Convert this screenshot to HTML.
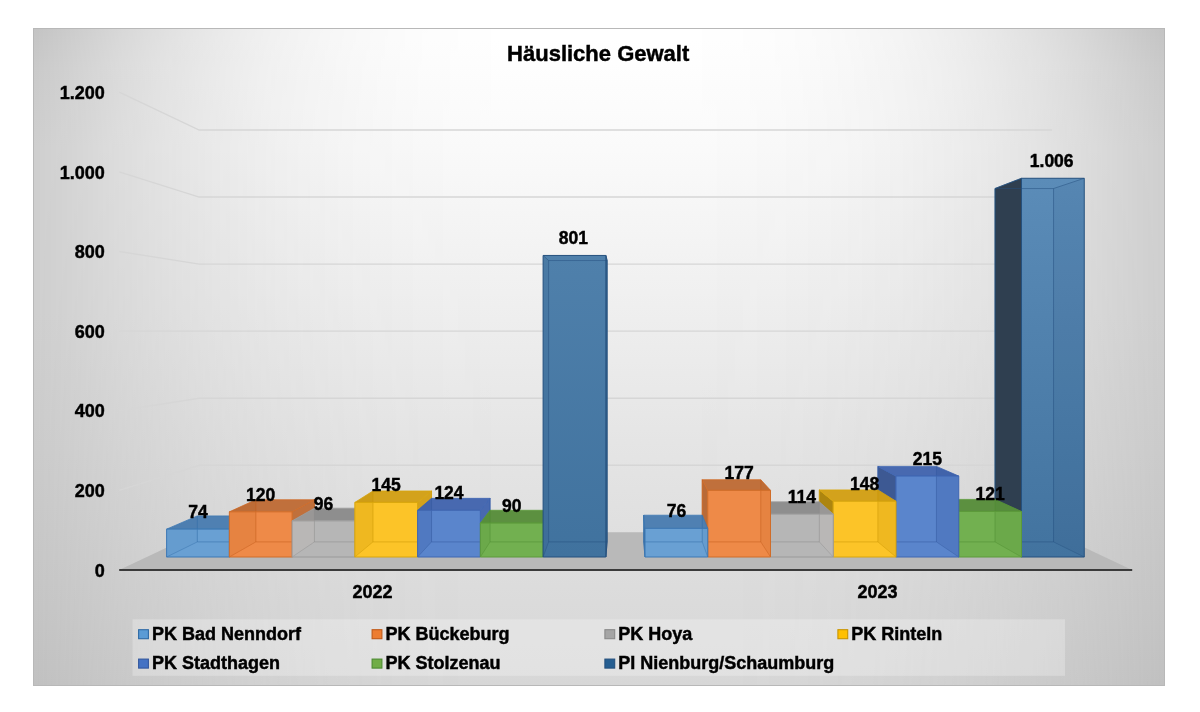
<!DOCTYPE html>
<html><head><meta charset="utf-8"><title>Häusliche Gewalt</title>
<style>
html,body{margin:0;padding:0;background:#fff;}
body{width:1200px;height:712px;position:relative;overflow:hidden;}
#chart{position:absolute;left:33px;top:28px;width:1132px;height:658px;box-sizing:border-box;
border:1px solid #b9b9b9;
border-color:#b8b8b8;background:linear-gradient(to bottom, #c4c4c4 0px, #c6c6c6 11px, #cacaca 39px, #cfcfcf 119px, #cfcfcf 283px, #cbcbcb 423px, #c5c5c5 579px, #c1c1c1 656px);}
#chart::before{content:"";position:absolute;left:0;top:0;right:0;bottom:0;background:linear-gradient(to bottom, #ffffff 0px, #ffffff 11px, #fafafa 121px, #f0f0f0 263px, #e5e5e5 413px, #dbdbdb 573px, #d7d7d7 656px);
-webkit-mask-image:linear-gradient(to right, rgba(0,0,0,0.000) 0px, rgba(0,0,0,0.108) 30px, rgba(0,0,0,0.232) 60px, rgba(0,0,0,0.345) 90px, rgba(0,0,0,0.447) 120px, rgba(0,0,0,0.538) 150px, rgba(0,0,0,0.620) 180px, rgba(0,0,0,0.692) 210px, rgba(0,0,0,0.755) 240px, rgba(0,0,0,0.809) 270px, rgba(0,0,0,0.856) 300px, rgba(0,0,0,0.894) 330px, rgba(0,0,0,0.926) 360px, rgba(0,0,0,0.951) 390px, rgba(0,0,0,0.970) 420px, rgba(0,0,0,0.983) 450px, rgba(0,0,0,0.992) 480px, rgba(0,0,0,0.997) 510px, rgba(0,0,0,1.000) 540px, rgba(0,0,0,1.000) 570px, rgba(0,0,0,0.999) 600px, rgba(0,0,0,0.996) 630px, rgba(0,0,0,0.990) 660px, rgba(0,0,0,0.980) 690px, rgba(0,0,0,0.965) 720px, rgba(0,0,0,0.945) 750px, rgba(0,0,0,0.918) 780px, rgba(0,0,0,0.885) 810px, rgba(0,0,0,0.844) 840px, rgba(0,0,0,0.796) 870px, rgba(0,0,0,0.739) 900px, rgba(0,0,0,0.674) 930px, rgba(0,0,0,0.599) 960px, rgba(0,0,0,0.515) 990px, rgba(0,0,0,0.420) 1020px, rgba(0,0,0,0.316) 1050px, rgba(0,0,0,0.200) 1080px, rgba(0,0,0,0.073) 1110px, rgba(0,0,0,0.000) 1130px);mask-image:linear-gradient(to right, rgba(0,0,0,0.000) 0px, rgba(0,0,0,0.108) 30px, rgba(0,0,0,0.232) 60px, rgba(0,0,0,0.345) 90px, rgba(0,0,0,0.447) 120px, rgba(0,0,0,0.538) 150px, rgba(0,0,0,0.620) 180px, rgba(0,0,0,0.692) 210px, rgba(0,0,0,0.755) 240px, rgba(0,0,0,0.809) 270px, rgba(0,0,0,0.856) 300px, rgba(0,0,0,0.894) 330px, rgba(0,0,0,0.926) 360px, rgba(0,0,0,0.951) 390px, rgba(0,0,0,0.970) 420px, rgba(0,0,0,0.983) 450px, rgba(0,0,0,0.992) 480px, rgba(0,0,0,0.997) 510px, rgba(0,0,0,1.000) 540px, rgba(0,0,0,1.000) 570px, rgba(0,0,0,0.999) 600px, rgba(0,0,0,0.996) 630px, rgba(0,0,0,0.990) 660px, rgba(0,0,0,0.980) 690px, rgba(0,0,0,0.965) 720px, rgba(0,0,0,0.945) 750px, rgba(0,0,0,0.918) 780px, rgba(0,0,0,0.885) 810px, rgba(0,0,0,0.844) 840px, rgba(0,0,0,0.796) 870px, rgba(0,0,0,0.739) 900px, rgba(0,0,0,0.674) 930px, rgba(0,0,0,0.599) 960px, rgba(0,0,0,0.515) 990px, rgba(0,0,0,0.420) 1020px, rgba(0,0,0,0.316) 1050px, rgba(0,0,0,0.200) 1080px, rgba(0,0,0,0.073) 1110px, rgba(0,0,0,0.000) 1130px);}
svg{position:absolute;left:0;top:0;}
text{font-family:"Liberation Sans",Arial,sans-serif;font-weight:bold;fill:#000;stroke:#000;stroke-width:0.45px;}
.dl{font-size:17.5px;text-anchor:middle;}
.yl{font-size:18px;text-anchor:end;}
.cl{font-size:18px;text-anchor:middle;}
.lg{font-size:18px;}
.ti{font-size:22px;text-anchor:middle;}
</style></head>
<body>
<div id="chart"></div>
<svg width="1200" height="712" viewBox="0 0 1200 712">
<defs><linearGradient id="g0" x1="0" y1="0" x2="0" y2="1"><stop offset="0" stop-color="#69a0d3"/><stop offset="1" stop-color="#69a0d3"/></linearGradient><linearGradient id="g1" x1="0" y1="0" x2="0" y2="1"><stop offset="0" stop-color="#5b8cb8"/><stop offset="1" stop-color="#42739f"/></linearGradient><linearGradient id="g2" x1="0" y1="0" x2="0" y2="1"><stop offset="0" stop-color="#ee8a48"/><stop offset="1" stop-color="#ee8a48"/></linearGradient><linearGradient id="g3" x1="0" y1="0" x2="0" y2="1"><stop offset="0" stop-color="#72b050"/><stop offset="1" stop-color="#72b050"/></linearGradient><linearGradient id="g4" x1="0" y1="0" x2="0" y2="1"><stop offset="0" stop-color="#b6b6b6"/><stop offset="1" stop-color="#b6b6b6"/></linearGradient><linearGradient id="g5" x1="0" y1="0" x2="0" y2="1"><stop offset="0" stop-color="#5a85cc"/><stop offset="1" stop-color="#5a85cc"/></linearGradient><linearGradient id="g6" x1="0" y1="0" x2="0" y2="1"><stop offset="0" stop-color="#fcc428"/><stop offset="1" stop-color="#fcc428"/></linearGradient><linearGradient id="g7" x1="0" y1="0" x2="0" y2="1"><stop offset="0" stop-color="#fcc428"/><stop offset="1" stop-color="#fcc428"/></linearGradient><linearGradient id="g8" x1="0" y1="0" x2="0" y2="1"><stop offset="0" stop-color="#5a85cc"/><stop offset="1" stop-color="#5a85cc"/></linearGradient><linearGradient id="g9" x1="0" y1="0" x2="0" y2="1"><stop offset="0" stop-color="#b6b6b6"/><stop offset="1" stop-color="#b6b6b6"/></linearGradient><linearGradient id="g10" x1="0" y1="0" x2="0" y2="1"><stop offset="0" stop-color="#72b050"/><stop offset="1" stop-color="#72b050"/></linearGradient><linearGradient id="g11" x1="0" y1="0" x2="0" y2="1"><stop offset="0" stop-color="#ee8a48"/><stop offset="1" stop-color="#ee8a48"/></linearGradient><linearGradient id="g12" x1="0" y1="0" x2="0" y2="1"><stop offset="0" stop-color="#4f80ab"/><stop offset="1" stop-color="#40729e"/></linearGradient><linearGradient id="g13" x1="0" y1="0" x2="0" y2="1"><stop offset="0" stop-color="#69a0d3"/><stop offset="1" stop-color="#69a0d3"/></linearGradient></defs>
<polyline points="119.20,490.37 199.20,465.27 1052.14,465.27" fill="none" stroke="#d6d6d6" stroke-width="1.4"/>
<polyline points="119.20,410.73 199.20,398.21 1052.14,398.21" fill="none" stroke="#d6d6d6" stroke-width="1.4"/>
<polyline points="119.20,331.10 199.20,331.16 1052.14,331.16" fill="none" stroke="#d6d6d6" stroke-width="1.4"/>
<polyline points="119.20,251.46 199.20,264.11 1052.14,264.11" fill="none" stroke="#d6d6d6" stroke-width="1.4"/>
<polyline points="119.20,171.83 199.20,197.06 1052.14,197.06" fill="none" stroke="#d6d6d6" stroke-width="1.4"/>
<polyline points="119.20,92.20 199.20,130.01 1052.14,130.01" fill="none" stroke="#d6d6d6" stroke-width="1.4"/>
<polygon points="119.20,570.00 1132.20,570.00 1052.14,532.32 199.20,532.32" fill="#b9b9b9"/>
<line x1="119.2" y1="570" x2="1132.2" y2="570" stroke="#3a3a3a" stroke-width="2.2"/>
<polygon points="229.35,529.14 255.87,515.91 255.87,541.90 229.35,557.00" fill="#4f80b2" stroke="#3d78b4" stroke-width="0.8" stroke-linejoin="round"/>
<polygon points="166.60,529.14 229.35,529.14 255.87,515.91 197.32,515.91" fill="#4f80b2" stroke="#3d78b4" stroke-width="0.8" stroke-linejoin="round"/>
<polygon points="166.60,529.14 229.35,529.14 229.35,557.00 166.60,557.00" fill="url(#g0)"/>
<polygon points="166.60,529.14 197.32,515.91 197.32,541.90 166.60,557.00" fill="#2d5f95" fill-opacity="0.06"/>
<polyline points="197.32,515.91 197.32,541.90 255.87,541.90 255.87,515.91" fill="none" stroke="#2f6aa5" stroke-width="0.9" stroke-opacity="0.55"/>
<line x1="166.60" y1="557.00" x2="197.32" y2="541.90" stroke="#2f6aa5" stroke-width="0.9" stroke-opacity="0.45"/>
<line x1="229.35" y1="557.00" x2="255.87" y2="541.90" stroke="#2f6aa5" stroke-width="0.9" stroke-opacity="0.45"/>
<polygon points="166.60,529.14 229.35,529.14 229.35,557.00 166.60,557.00" fill="none" stroke="#3d78b4" stroke-width="1.0" stroke-linejoin="round"/>
<polygon points="1021.50,178.27 994.99,188.53 994.99,541.90 1021.50,557.00" fill="#2f3f50" stroke="#24507e" stroke-width="0.8" stroke-linejoin="round"/>
<polygon points="1021.50,178.27 1084.25,178.27 1084.25,557.00 1021.50,557.00" fill="url(#g1)"/>
<polygon points="1084.25,178.27 1053.54,188.53 1053.54,541.90 1084.25,557.00" fill="#1d3f66" fill-opacity="0.07"/>
<polyline points="994.99,188.53 994.99,541.90 1053.54,541.90 1053.54,188.53" fill="none" stroke="#24507e" stroke-width="0.9" stroke-opacity="0.55"/>
<line x1="1021.50" y1="557.00" x2="994.99" y2="541.90" stroke="#24507e" stroke-width="0.9" stroke-opacity="0.45"/>
<line x1="1084.25" y1="557.00" x2="1053.54" y2="541.90" stroke="#24507e" stroke-width="0.9" stroke-opacity="0.45"/>
<line x1="994.99" y1="188.53" x2="1053.54" y2="188.53" stroke="#24507e" stroke-width="0.9" stroke-opacity="0.55"/>
<line x1="1021.50" y1="178.27" x2="994.99" y2="188.53" stroke="#24507e" stroke-width="0.9" stroke-opacity="0.55"/>
<line x1="1084.25" y1="178.27" x2="1053.54" y2="188.53" stroke="#24507e" stroke-width="0.9" stroke-opacity="0.55"/>
<polygon points="1021.50,178.27 1084.25,178.27 1084.25,557.00 1021.50,557.00" fill="none" stroke="#24507e" stroke-width="1.0" stroke-linejoin="round"/>
<polygon points="292.10,511.83 314.42,499.75 314.42,541.90 292.10,557.00" fill="#c0703c" stroke="#d06c28" stroke-width="0.8" stroke-linejoin="round"/>
<polygon points="229.35,511.83 292.10,511.83 314.42,499.75 255.87,499.75" fill="#c0703c" stroke="#d06c28" stroke-width="0.8" stroke-linejoin="round"/>
<polygon points="229.35,511.83 292.10,511.83 292.10,557.00 229.35,557.00" fill="url(#g2)"/>
<polygon points="229.35,511.83 255.87,499.75 255.87,541.90 229.35,557.00" fill="#b05010" fill-opacity="0.12"/>
<polyline points="255.87,499.75 255.87,541.90 314.42,541.90 314.42,499.75" fill="none" stroke="#c05a18" stroke-width="0.9" stroke-opacity="0.55"/>
<line x1="229.35" y1="557.00" x2="255.87" y2="541.90" stroke="#c05a18" stroke-width="0.9" stroke-opacity="0.45"/>
<line x1="292.10" y1="557.00" x2="314.42" y2="541.90" stroke="#c05a18" stroke-width="0.9" stroke-opacity="0.45"/>
<polygon points="229.35,511.83 292.10,511.83 292.10,557.00 229.35,557.00" fill="none" stroke="#d06c28" stroke-width="1.0" stroke-linejoin="round"/>
<polygon points="958.75,511.45 936.44,499.40 936.44,541.90 958.75,557.00" fill="#4a7632" stroke="#5c9a3a" stroke-width="0.8" stroke-linejoin="round"/>
<polygon points="958.75,511.45 1021.50,511.45 994.99,499.40 936.44,499.40" fill="#5c9040" stroke="#5c9a3a" stroke-width="0.8" stroke-linejoin="round"/>
<polygon points="958.75,511.45 1021.50,511.45 1021.50,557.00 958.75,557.00" fill="url(#g3)"/>
<polygon points="1021.50,511.45 994.99,499.40 994.99,541.90 1021.50,557.00" fill="#3c7a20" fill-opacity="0.12"/>
<polyline points="936.44,499.40 936.44,541.90 994.99,541.90 994.99,499.40" fill="none" stroke="#4c8a30" stroke-width="0.9" stroke-opacity="0.55"/>
<line x1="958.75" y1="557.00" x2="936.44" y2="541.90" stroke="#4c8a30" stroke-width="0.9" stroke-opacity="0.45"/>
<line x1="1021.50" y1="557.00" x2="994.99" y2="541.90" stroke="#4c8a30" stroke-width="0.9" stroke-opacity="0.45"/>
<polygon points="958.75,511.45 1021.50,511.45 1021.50,557.00 958.75,557.00" fill="none" stroke="#5c9a3a" stroke-width="1.0" stroke-linejoin="round"/>
<polygon points="354.85,520.86 372.97,508.18 372.97,541.90 354.85,557.00" fill="#8e8e8e" stroke="#9a9a9a" stroke-width="0.8" stroke-linejoin="round"/>
<polygon points="292.10,520.86 354.85,520.86 372.97,508.18 314.42,508.18" fill="#8e8e8e" stroke="#9a9a9a" stroke-width="0.8" stroke-linejoin="round"/>
<polygon points="292.10,520.86 354.85,520.86 354.85,557.00 292.10,557.00" fill="url(#g4)"/>
<polygon points="292.10,520.86 314.42,508.18 314.42,541.90 292.10,557.00" fill="#c8c0b8" fill-opacity="0.2"/>
<polyline points="314.42,508.18 314.42,541.90 372.97,541.90 372.97,508.18" fill="none" stroke="#8a8a8a" stroke-width="0.9" stroke-opacity="0.55"/>
<line x1="292.10" y1="557.00" x2="314.42" y2="541.90" stroke="#8a8a8a" stroke-width="0.9" stroke-opacity="0.45"/>
<line x1="354.85" y1="557.00" x2="372.97" y2="541.90" stroke="#8a8a8a" stroke-width="0.9" stroke-opacity="0.45"/>
<polygon points="292.10,520.86 354.85,520.86 354.85,557.00 292.10,557.00" fill="none" stroke="#9a9a9a" stroke-width="1.0" stroke-linejoin="round"/>
<polygon points="896.00,476.06 877.89,466.38 877.89,541.90 896.00,557.00" fill="#3d5993" stroke="#3f66b2" stroke-width="0.8" stroke-linejoin="round"/>
<polygon points="896.00,476.06 958.75,476.06 936.44,466.38 877.89,466.38" fill="#4869b0" stroke="#3f66b2" stroke-width="0.8" stroke-linejoin="round"/>
<polygon points="896.00,476.06 958.75,476.06 958.75,557.00 896.00,557.00" fill="url(#g5)"/>
<polygon points="958.75,476.06 936.44,466.38 936.44,541.90 958.75,557.00" fill="#2a4c98" fill-opacity="0.2"/>
<polyline points="877.89,466.38 877.89,541.90 936.44,541.90 936.44,466.38" fill="none" stroke="#34589f" stroke-width="0.9" stroke-opacity="0.55"/>
<line x1="896.00" y1="557.00" x2="877.89" y2="541.90" stroke="#34589f" stroke-width="0.9" stroke-opacity="0.45"/>
<line x1="958.75" y1="557.00" x2="936.44" y2="541.90" stroke="#34589f" stroke-width="0.9" stroke-opacity="0.45"/>
<polygon points="896.00,476.06 958.75,476.06 958.75,557.00 896.00,557.00" fill="none" stroke="#3f66b2" stroke-width="1.0" stroke-linejoin="round"/>
<polygon points="417.60,502.41 431.52,490.97 431.52,541.90 417.60,557.00" fill="#d3a21c" stroke="#d9a60c" stroke-width="0.8" stroke-linejoin="round"/>
<polygon points="354.85,502.41 417.60,502.41 431.52,490.97 372.97,490.97" fill="#d3a21c" stroke="#d9a60c" stroke-width="0.8" stroke-linejoin="round"/>
<polygon points="354.85,502.41 417.60,502.41 417.60,557.00 354.85,557.00" fill="url(#g6)"/>
<polygon points="354.85,502.41 372.97,490.97 372.97,541.90 354.85,557.00" fill="#c08a00" fill-opacity="0.2"/>
<polyline points="372.97,490.97 372.97,541.90 431.52,541.90 431.52,490.97" fill="none" stroke="#c89400" stroke-width="0.9" stroke-opacity="0.55"/>
<line x1="354.85" y1="557.00" x2="372.97" y2="541.90" stroke="#c89400" stroke-width="0.9" stroke-opacity="0.45"/>
<line x1="417.60" y1="557.00" x2="431.52" y2="541.90" stroke="#c89400" stroke-width="0.9" stroke-opacity="0.45"/>
<polygon points="354.85,502.41 417.60,502.41 417.60,557.00 354.85,557.00" fill="none" stroke="#d9a60c" stroke-width="1.0" stroke-linejoin="round"/>
<polygon points="833.25,501.28 819.34,489.92 819.34,541.90 833.25,557.00" fill="#ad850f" stroke="#d9a60c" stroke-width="0.8" stroke-linejoin="round"/>
<polygon points="833.25,501.28 896.00,501.28 877.89,489.92 819.34,489.92" fill="#d3a21c" stroke="#d9a60c" stroke-width="0.8" stroke-linejoin="round"/>
<polygon points="833.25,501.28 896.00,501.28 896.00,557.00 833.25,557.00" fill="url(#g7)"/>
<polygon points="896.00,501.28 877.89,489.92 877.89,541.90 896.00,557.00" fill="#c08a00" fill-opacity="0.2"/>
<polyline points="819.34,489.92 819.34,541.90 877.89,541.90 877.89,489.92" fill="none" stroke="#c89400" stroke-width="0.9" stroke-opacity="0.55"/>
<line x1="833.25" y1="557.00" x2="819.34" y2="541.90" stroke="#c89400" stroke-width="0.9" stroke-opacity="0.45"/>
<line x1="896.00" y1="557.00" x2="877.89" y2="541.90" stroke="#c89400" stroke-width="0.9" stroke-opacity="0.45"/>
<polygon points="833.25,501.28 896.00,501.28 896.00,557.00 833.25,557.00" fill="none" stroke="#d9a60c" stroke-width="1.0" stroke-linejoin="round"/>
<polygon points="480.35,510.32 490.07,498.35 490.07,541.90 480.35,557.00" fill="#4869b0" stroke="#3f66b2" stroke-width="0.8" stroke-linejoin="round"/>
<polygon points="417.60,510.32 480.35,510.32 490.07,498.35 431.52,498.35" fill="#4869b0" stroke="#3f66b2" stroke-width="0.8" stroke-linejoin="round"/>
<polygon points="417.60,510.32 480.35,510.32 480.35,557.00 417.60,557.00" fill="url(#g8)"/>
<polygon points="417.60,510.32 431.52,498.35 431.52,541.90 417.60,557.00" fill="#2a4c98" fill-opacity="0.2"/>
<polyline points="431.52,498.35 431.52,541.90 490.07,541.90 490.07,498.35" fill="none" stroke="#34589f" stroke-width="0.9" stroke-opacity="0.55"/>
<line x1="417.60" y1="557.00" x2="431.52" y2="541.90" stroke="#34589f" stroke-width="0.9" stroke-opacity="0.45"/>
<line x1="480.35" y1="557.00" x2="490.07" y2="541.90" stroke="#34589f" stroke-width="0.9" stroke-opacity="0.45"/>
<polygon points="417.60,510.32 480.35,510.32 480.35,557.00 417.60,557.00" fill="none" stroke="#3f66b2" stroke-width="1.0" stroke-linejoin="round"/>
<polygon points="770.50,514.08 760.79,501.86 760.79,541.90 770.50,557.00" fill="#7c7c7c" stroke="#9a9a9a" stroke-width="0.8" stroke-linejoin="round"/>
<polygon points="770.50,514.08 833.25,514.08 819.34,501.86 760.79,501.86" fill="#8e8e8e" stroke="#9a9a9a" stroke-width="0.8" stroke-linejoin="round"/>
<polygon points="770.50,514.08 833.25,514.08 833.25,557.00 770.50,557.00" fill="url(#g9)"/>
<polygon points="833.25,514.08 819.34,501.86 819.34,541.90 833.25,557.00" fill="#c8c0b8" fill-opacity="0.2"/>
<polyline points="760.79,501.86 760.79,541.90 819.34,541.90 819.34,501.86" fill="none" stroke="#8a8a8a" stroke-width="0.9" stroke-opacity="0.55"/>
<line x1="770.50" y1="557.00" x2="760.79" y2="541.90" stroke="#8a8a8a" stroke-width="0.9" stroke-opacity="0.45"/>
<line x1="833.25" y1="557.00" x2="819.34" y2="541.90" stroke="#8a8a8a" stroke-width="0.9" stroke-opacity="0.45"/>
<polygon points="770.50,514.08 833.25,514.08 833.25,557.00 770.50,557.00" fill="none" stroke="#9a9a9a" stroke-width="1.0" stroke-linejoin="round"/>
<polygon points="543.10,523.12 548.62,510.29 548.62,541.90 543.10,557.00" fill="#5c9040" stroke="#5c9a3a" stroke-width="0.8" stroke-linejoin="round"/>
<polygon points="480.35,523.12 543.10,523.12 548.62,510.29 490.07,510.29" fill="#5c9040" stroke="#5c9a3a" stroke-width="0.8" stroke-linejoin="round"/>
<polygon points="480.35,523.12 543.10,523.12 543.10,557.00 480.35,557.00" fill="url(#g10)"/>
<polygon points="480.35,523.12 490.07,510.29 490.07,541.90 480.35,557.00" fill="#3c7a20" fill-opacity="0.12"/>
<polyline points="490.07,510.29 490.07,541.90 548.62,541.90 548.62,510.29" fill="none" stroke="#4c8a30" stroke-width="0.9" stroke-opacity="0.55"/>
<line x1="480.35" y1="557.00" x2="490.07" y2="541.90" stroke="#4c8a30" stroke-width="0.9" stroke-opacity="0.45"/>
<line x1="543.10" y1="557.00" x2="548.62" y2="541.90" stroke="#4c8a30" stroke-width="0.9" stroke-opacity="0.45"/>
<polygon points="480.35,523.12 543.10,523.12 543.10,557.00 480.35,557.00" fill="none" stroke="#5c9a3a" stroke-width="1.0" stroke-linejoin="round"/>
<polygon points="707.75,490.37 702.24,479.73 702.24,541.90 707.75,557.00" fill="#b86a38" stroke="#d06c28" stroke-width="0.8" stroke-linejoin="round"/>
<polygon points="707.75,490.37 770.50,490.37 760.79,479.73 702.24,479.73" fill="#c0703c" stroke="#d06c28" stroke-width="0.8" stroke-linejoin="round"/>
<polygon points="707.75,490.37 770.50,490.37 770.50,557.00 707.75,557.00" fill="url(#g11)"/>
<polygon points="770.50,490.37 760.79,479.73 760.79,541.90 770.50,557.00" fill="#b05010" fill-opacity="0.12"/>
<polyline points="702.24,479.73 702.24,541.90 760.79,541.90 760.79,479.73" fill="none" stroke="#c05a18" stroke-width="0.9" stroke-opacity="0.55"/>
<line x1="707.75" y1="557.00" x2="702.24" y2="541.90" stroke="#c05a18" stroke-width="0.9" stroke-opacity="0.45"/>
<line x1="770.50" y1="557.00" x2="760.79" y2="541.90" stroke="#c05a18" stroke-width="0.9" stroke-opacity="0.45"/>
<polygon points="707.75,490.37 770.50,490.37 770.50,557.00 707.75,557.00" fill="none" stroke="#d06c28" stroke-width="1.0" stroke-linejoin="round"/>
<polygon points="605.85,255.45 607.17,260.54 607.17,541.90 605.85,557.00" fill="#416f9c" stroke="#24507e" stroke-width="0.8" stroke-linejoin="round"/>
<polygon points="543.10,255.45 605.85,255.45 605.85,557.00 543.10,557.00" fill="url(#g12)"/>
<polygon points="543.10,255.45 548.62,260.54 548.62,541.90 543.10,557.00" fill="#1d3f66" fill-opacity="0.07"/>
<polyline points="548.62,260.54 548.62,541.90 607.17,541.90 607.17,260.54" fill="none" stroke="#24507e" stroke-width="0.9" stroke-opacity="0.55"/>
<line x1="543.10" y1="557.00" x2="548.62" y2="541.90" stroke="#24507e" stroke-width="0.9" stroke-opacity="0.45"/>
<line x1="605.85" y1="557.00" x2="607.17" y2="541.90" stroke="#24507e" stroke-width="0.9" stroke-opacity="0.45"/>
<line x1="548.62" y1="260.54" x2="607.17" y2="260.54" stroke="#24507e" stroke-width="0.9" stroke-opacity="0.55"/>
<line x1="543.10" y1="255.45" x2="548.62" y2="260.54" stroke="#24507e" stroke-width="0.9" stroke-opacity="0.55"/>
<line x1="605.85" y1="255.45" x2="607.17" y2="260.54" stroke="#24507e" stroke-width="0.9" stroke-opacity="0.55"/>
<polygon points="543.10,255.45 605.85,255.45 605.85,557.00 543.10,557.00" fill="none" stroke="#24507e" stroke-width="1.0" stroke-linejoin="round"/>
<polygon points="645.00,528.39 643.69,515.21 643.69,541.90 645.00,557.00" fill="#3e6a96" stroke="#3d78b4" stroke-width="0.8" stroke-linejoin="round"/>
<polygon points="645.00,528.39 707.75,528.39 702.24,515.21 643.69,515.21" fill="#4f80b2" stroke="#3d78b4" stroke-width="0.8" stroke-linejoin="round"/>
<polygon points="645.00,528.39 707.75,528.39 707.75,557.00 645.00,557.00" fill="url(#g13)"/>
<polygon points="707.75,528.39 702.24,515.21 702.24,541.90 707.75,557.00" fill="#2d5f95" fill-opacity="0.06"/>
<polyline points="643.69,515.21 643.69,541.90 702.24,541.90 702.24,515.21" fill="none" stroke="#2f6aa5" stroke-width="0.9" stroke-opacity="0.55"/>
<line x1="645.00" y1="557.00" x2="643.69" y2="541.90" stroke="#2f6aa5" stroke-width="0.9" stroke-opacity="0.45"/>
<line x1="707.75" y1="557.00" x2="702.24" y2="541.90" stroke="#2f6aa5" stroke-width="0.9" stroke-opacity="0.45"/>
<polygon points="645.00,528.39 707.75,528.39 707.75,557.00 645.00,557.00" fill="none" stroke="#3d78b4" stroke-width="1.0" stroke-linejoin="round"/>
<text x="198.0" y="517.8" class="dl">74</text>
<text x="1051.7" y="167.0" class="dl">1.006</text>
<text x="260.7" y="500.5" class="dl">120</text>
<text x="990.1" y="500.1" class="dl">121</text>
<text x="323.5" y="509.6" class="dl">96</text>
<text x="927.4" y="464.8" class="dl">215</text>
<text x="386.2" y="491.1" class="dl">145</text>
<text x="864.6" y="490.0" class="dl">148</text>
<text x="449.0" y="499.0" class="dl">124</text>
<text x="801.9" y="502.8" class="dl">114</text>
<text x="511.7" y="511.8" class="dl">90</text>
<text x="739.1" y="479.1" class="dl">177</text>
<text x="573.3" y="244.1" class="dl">801</text>
<text x="676.4" y="517.1" class="dl">76</text>
<text x="104.7" y="576.5" class="yl">0</text>
<text x="104.7" y="497.0" class="yl">200</text>
<text x="104.7" y="417.4" class="yl">400</text>
<text x="104.7" y="337.9" class="yl">600</text>
<text x="104.7" y="258.3" class="yl">800</text>
<text x="104.7" y="178.8" class="yl">1.000</text>
<text x="104.7" y="99.3" class="yl">1.200</text>
<text x="372.5" y="597.7" class="cl">2022</text>
<text x="877.6" y="597.7" class="cl">2023</text>
<rect x="132.5" y="619.3" width="932.5" height="56.5" fill="#ffffff" fill-opacity="0.26"/>
<rect x="138.6" y="629.7" width="9.8" height="9" fill="#5b9bd5" stroke="#2f6aa5" stroke-width="1.1"/>
<text x="152" y="639.7" class="lg">PK Bad Nenndorf</text>
<rect x="372.1" y="629.7" width="9.8" height="9" fill="#ed7d31" stroke="#c05a18" stroke-width="1.1"/>
<text x="385.5" y="639.7" class="lg">PK Bückeburg</text>
<rect x="604.9" y="629.7" width="9.8" height="9" fill="#a5a5a5" stroke="#8a8a8a" stroke-width="1.1"/>
<text x="618.3" y="639.7" class="lg">PK Hoya</text>
<rect x="837.9" y="629.7" width="9.8" height="9" fill="#ffc000" stroke="#c89400" stroke-width="1.1"/>
<text x="851.3" y="639.7" class="lg">PK Rinteln</text>
<rect x="138.6" y="659.1" width="9.8" height="9" fill="#4472c4" stroke="#34589f" stroke-width="1.1"/>
<text x="152" y="669.1" class="lg">PK Stadthagen</text>
<rect x="372.1" y="659.1" width="9.8" height="9" fill="#70ad47" stroke="#4c8a30" stroke-width="1.1"/>
<text x="385.5" y="669.1" class="lg">PK Stolzenau</text>
<rect x="604.9" y="659.1" width="9.8" height="9" fill="#255e91" stroke="#24507e" stroke-width="1.1"/>
<text x="618.3" y="669.1" class="lg">PI Nienburg/Schaumburg</text>
<text x="598.2" y="61.3" class="ti">Häusliche Gewalt</text>
</svg>
</body></html>
